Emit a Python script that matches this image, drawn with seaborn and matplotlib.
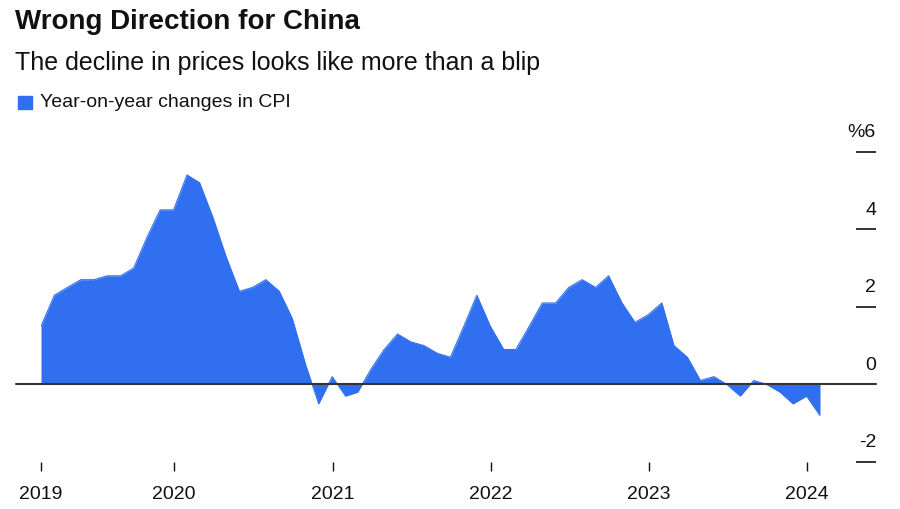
import pandas as pd
import matplotlib
matplotlib.use("Agg")
import matplotlib.pyplot as plt
import matplotlib.dates as mdates
from matplotlib.patches import Rectangle
import seaborn as sns

# ---------------- data (monthly, Feb 2019 - Jan 2024) -----------------
months = pd.period_range("2019-02", "2024-01", freq="M").astype(str).tolist()
cpi_yoy = [
    1.5, 2.3, 2.5, 2.7, 2.7, 2.8, 2.8, 3.0, 3.8, 4.5, 4.5,          # 2019
    5.4, 5.2, 4.3, 3.3, 2.4, 2.5, 2.7, 2.4, 1.7, 0.5, -0.5, 0.2,    # 2020
    -0.3, -0.2, 0.4, 0.9, 1.3, 1.1, 1.0, 0.8, 0.7, 1.5, 2.3, 1.5,   # 2021
    0.9, 0.9, 1.5, 2.1, 2.1, 2.5, 2.7, 2.5, 2.8, 2.1, 1.6, 1.8,     # 2022
    2.1, 1.0, 0.7, 0.1, 0.2, 0.0, -0.3, 0.1, 0.0, -0.2, -0.5, -0.3, # 2023
    -0.8,                                                           # 2024
]
x_tick_dates = ["2019-02-28", "2020-01-01", "2021-01-01", "2022-01-01", "2023-01-01", "2024-01-01"]
x_tick_labels = ["2019", "2020", "2021", "2022", "2023", "2024"]
y_ticks = [-2, 0, 2, 4, 6]
y_tick_labels = ["-2", "0", "2", "4", "%6"]

title = "Wrong Direction for China"
subtitle = "The decline in prices looks like more than a blip"
legend_label = "Year-on-year changes in CPI"

BLUE = "#2f6ff0"
INK = "#111111"

# values are dated at month end
df = pd.DataFrame({"month": months, "cpi": cpi_yoy})
df["date"] = pd.to_datetime(df["month"]) + pd.offsets.MonthEnd(0)

sns.set_style("white")
plt.rcParams["font.family"] = ["Liberation Sans", "DejaVu Sans"]

fig = plt.figure(figsize=(9, 5.1), dpi=100)
ax = fig.add_axes([41 / 900, 1 - 463 / 510, 779 / 900, (463 - 152.7) / 510])

sns.lineplot(data=df, x="date", y="cpi", color=BLUE, lw=0.8, ax=ax)
ax.fill_between(df["date"], df["cpi"], 0, color=BLUE, lw=0)

ax.set_xlim(df["date"].iloc[0], df["date"].iloc[-1])
ax.set_ylim(-2, 6)

# zero line runs a bit past the plot on both sides
ax.axhline(0, xmin=-25 / 779, xmax=835 / 779, color="#333333", lw=1.5, clip_on=False, zorder=5)

for side in ["top", "left", "bottom"]:
    ax.spines[side].set_visible(False)
ax.spines["right"].set_color("none")
ax.spines["right"].set_position(("outward", 36 * 0.72))

ax.yaxis.tick_right()
ax.set_yticks(y_ticks)
ax.tick_params(axis="y", right=True, direction="out", length=20 * 0.72, width=1.2, color=INK, labelright=False)
for v, lab in zip(y_ticks, y_tick_labels):                         # labels sit above the dashes
    ax.annotate(lab, xy=(1, v), xycoords=ax.get_yaxis_transform(),
                xytext=(56 * 0.72, 20 * 0.72), textcoords="offset points",
                ha="right", va="center", fontsize=14, color=INK)

ax.set_xticks(mdates.date2num(pd.to_datetime(x_tick_dates)))
ax.set_xticklabels(x_tick_labels)
ax.tick_params(axis="x", bottom=True, direction="out", length=6.5, width=1, color=INK, pad=10,
               labelsize=14, labelcolor=INK)
ax.set_xlabel("")
ax.set_ylabel("")
ax.grid(False)

# header
fig.text(15 / 900, 1 - 22 / 510, title, fontsize=20, fontweight="bold", color=INK, va="center")
fig.text(15 / 900, 1 - 63 / 510, subtitle, fontsize=18, color=INK, va="center")
fig.patches.append(Rectangle((18 / 900, 1 - 110 / 510), 14 / 900, 13 / 510,
                             transform=fig.transFigure, color=BLUE))
fig.text(40 / 900, 1 - 103 / 510, legend_label, fontsize=14, color=INK, va="center")

fig.savefig("out.png", dpi=100)
